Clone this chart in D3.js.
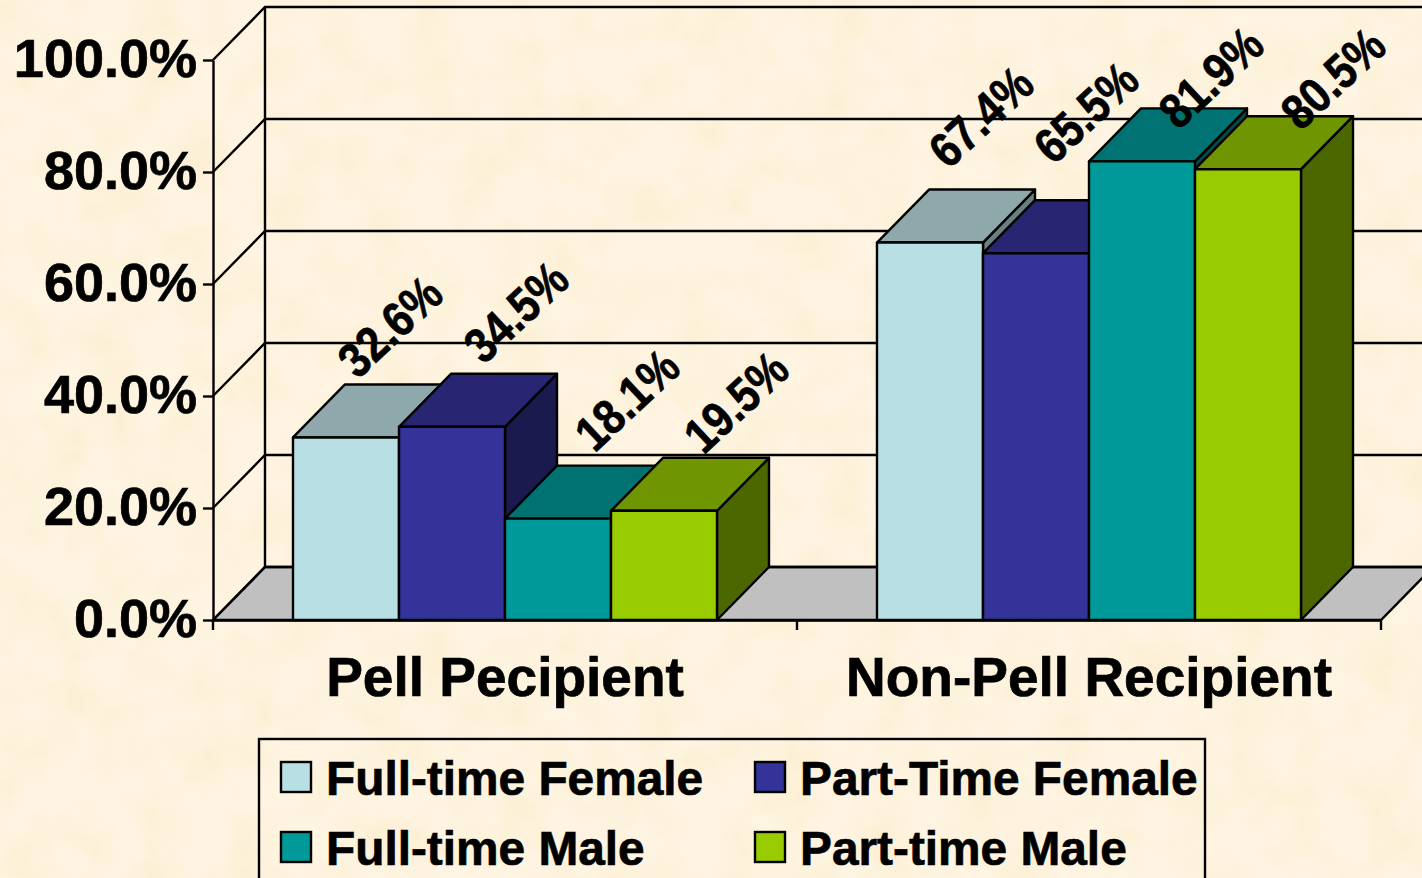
<!DOCTYPE html>
<html>
<head>
<meta charset="utf-8">
<script src="https://cdn.jsdelivr.net/npm/d3@7"></script>
<style>
html, body { margin: 0; padding: 0; background: #fdf2dd; overflow: hidden; }
svg { display: block; }
text { font-family: "Liberation Sans", Arial, sans-serif; font-weight: bold; fill: #000; stroke: #000; stroke-width: 0.7px; }
</style>
</head>
<body>
<div id="chart"></div>
<script>
var categories = ['Pell Pecipient', 'Non-Pell Recipient'];
var seriesNames = ['Full-time Female', 'Part-Time Female', 'Full-time Male', 'Part-time Male'];
var fullTimeFemale = [32.6, 67.4];
var partTimeFemale = [34.5, 65.5];
var fullTimeMale = [18.1, 81.9];
var partTimeMale = [19.5, 80.5];
var seriesValues = [fullTimeFemale, partTimeFemale, fullTimeMale, partTimeMale];
var yTicks = [0, 20, 40, 60, 80, 100];

var frontColors = ['#b8e0e4', '#333399', '#009999', '#99cc00'];
var topColors = ['#8fa8ac', '#282672', '#007272', '#6f9600'];
var sideColors = ['#6a7f80', '#1b1a4e', '#004c4c', '#4c6600'];

var width = 1422, height = 878;
var depthX = 52, depthY = 53;
var lineW = 2.4;

// hand placed in the original, centre of each label relative to its bar
var labelShift = [
    [[44, -111], [64, -115], [69, -119], [72, -109]],
    [[51, -126], [50, -141], [69, -84], [85, -91]]
];

var svg = d3.select('#chart').append('svg')
    .attr('width', width)
    .attr('height', height);

// mottled paper background
var defs = svg.append('defs');
var paper = defs.append('filter').attr('id', 'paper')
    .attr('x', 0).attr('y', 0).attr('width', '100%').attr('height', '100%')
    .attr('color-interpolation-filters', 'sRGB');
paper.append('feTurbulence')
    .attr('type', 'fractalNoise')
    .attr('baseFrequency', 0.022)
    .attr('numOctaves', 3)
    .attr('seed', 4);
paper.append('feColorMatrix')
    .attr('type', 'matrix')
    .attr('values', '0 0 0 0 0.97  0 0 0 0 0.91  0 0 0 0 0.74  2.6 0 0 0 -1.05');
svg.append('rect').attr('width', width).attr('height', height).attr('fill', '#fef4e1');
svg.append('rect').attr('width', width).attr('height', height).attr('filter', 'url(#paper)').attr('opacity', 0.3);

var x = d3.scaleBand().domain(categories).range([213, 1381]);
var y = d3.scaleLinear().domain([0, 100]).range([620, 60]);
var xBar = d3.scaleBand().domain(seriesNames).range([80, x.bandwidth() - 80]);

var line = d3.line();
function poly(pts) { return line(pts) + 'Z'; }

// walls and floor
var x0 = x.range()[0], x1 = x.range()[1];
svg.append('path')
    .attr('d', poly([[x0, y(0)], [x0 + depthX, y(0) - depthY], [x1 + depthX, y(0) - depthY], [x1, y(0)]]))
    .attr('fill', '#c0c0c0')
    .attr('stroke', '#000')
    .attr('stroke-width', lineW);

svg.append('g').selectAll('path.grid')
    .data(yTicks)
    .enter().append('path')
    .attr('class', 'grid')
    .attr('d', function(d) {
        return line([[x0, y(d)], [x0 + depthX, y(d) - depthY], [width + 5, y(d) - depthY]]);
    })
    .attr('fill', 'none')
    .attr('stroke', '#000')
    .attr('stroke-width', lineW);

svg.append('line')
    .attr('x1', x0 + depthX).attr('x2', x0 + depthX)
    .attr('y1', y(0) - depthY).attr('y2', y(100) - depthY)
    .attr('stroke', '#000').attr('stroke-width', lineW);

// bars, painted left to right so later ones cover the earlier sides
categories.forEach(function(cat, c) {
    seriesNames.forEach(function(name, s) {
        var v = seriesValues[s][c];
        var l = x(cat) + xBar(name), r = l + xBar.bandwidth();
        var t = y(v), b = y(0);
        var g = svg.append('g')
            .attr('stroke', '#000')
            .attr('stroke-width', lineW)
            .attr('stroke-linejoin', 'round');
        g.append('path')
            .attr('d', poly([[r, t], [r + depthX, t - depthY], [r + depthX, b - depthY], [r, b]]))
            .attr('fill', sideColors[s]);
        g.append('path')
            .attr('d', poly([[l, t], [l + depthX, t - depthY], [r + depthX, t - depthY], [r, t]]))
            .attr('fill', topColors[s]);
        g.append('rect')
            .attr('x', l).attr('y', t)
            .attr('width', r - l).attr('height', b - t)
            .attr('fill', frontColors[s]);
    });
});

// axes
var yAxis = svg.append('g')
    .attr('transform', 'translate(' + x0 + ',0)')
    .call(d3.axisLeft(y)
        .tickValues(yTicks)
        .tickSize(10)
        .tickPadding(6)
        .tickSizeOuter(0)
        .tickFormat(function(d) { return d3.format('.1f')(d) + '%'; }));
yAxis.selectAll('.domain, line').attr('stroke', '#000').attr('stroke-width', lineW);
yAxis.selectAll('text').style('font-size', '54px').style('font-family', null).attr('dy', '0.31em');

var xAxis = svg.append('g')
    .attr('transform', 'translate(0,' + y(0) + ')')
    .call(d3.axisBottom(x).tickSize(0).tickPadding(37));
xAxis.select('.domain').attr('stroke', '#000').attr('stroke-width', lineW);
xAxis.selectAll('text').style('font-size', '55px').style('font-family', null);

svg.append('g').selectAll('line.xtick')
    .data([x0, x0 + x.bandwidth(), x1])
    .enter().append('line')
    .attr('class', 'xtick')
    .attr('x1', function(d) { return d; })
    .attr('x2', function(d) { return d; })
    .attr('y1', y(0))
    .attr('y2', y(0) + 10)
    .attr('stroke', '#000')
    .attr('stroke-width', lineW);

// data labels
categories.forEach(function(cat, c) {
    seriesNames.forEach(function(name, s) {
        var v = seriesValues[s][c];
        var cx = x(cat) + xBar(name) + xBar.bandwidth() / 2 + labelShift[c][s][0];
        var cy = y(v) + labelShift[c][s][1];
        svg.append('text')
            .attr('transform', 'translate(' + cx + ',' + cy + ') rotate(-43) scale(0.87,1)')
            .attr('text-anchor', 'middle')
            .attr('dy', '0.35em')
            .style('font-size', '49px')
            .text(d3.format('.1f')(v) + '%');
    });
});

// legend
svg.append('rect')
    .attr('x', 259).attr('y', 739)
    .attr('width', 946).attr('height', 160)
    .attr('fill', 'none')
    .attr('stroke', '#000')
    .attr('stroke-width', lineW);

var legendCol = d3.scaleOrdinal().domain([0, 1]).range([281, 755]);
var legendRow = d3.scaleOrdinal().domain([0, 1]).range([762, 832]);
var legendItems = svg.append('g').selectAll('g')
    .data(seriesNames)
    .enter().append('g')
    .attr('transform', function(d, i) {
        return 'translate(' + legendCol(i % 2) + ',' + legendRow(Math.floor(i / 2)) + ')';
    });
legendItems.append('rect')
    .attr('width', 30).attr('height', 30)
    .attr('fill', function(d, i) { return frontColors[i]; })
    .attr('stroke', '#000')
    .attr('stroke-width', lineW);
legendItems.append('text')
    .attr('x', 45).attr('y', 33)
    .style('font-size', '47.8px')
    .text(function(d) { return d; });
</script>
</body>
</html>
